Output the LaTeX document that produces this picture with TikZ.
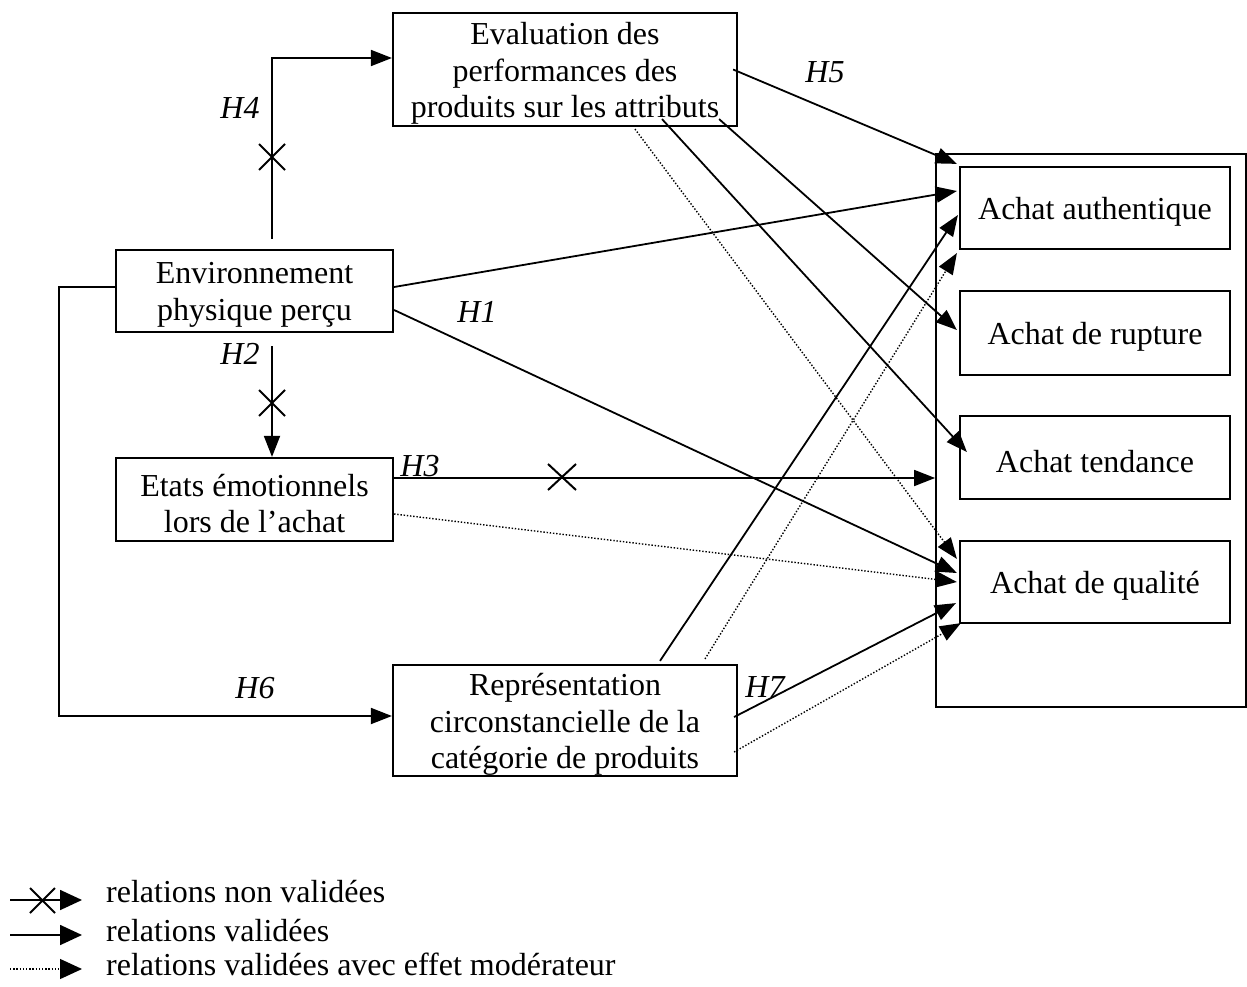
\documentclass[tikz,border=0pt]{standalone}
\usepackage{fontspec}
\setmainfont{Liberation Serif}
\usetikzlibrary{arrows.meta,calc}
\begin{document}
\begin{tikzpicture}[x=1pt,y=-1pt,
  font=\fontsize{32}{36.5}\selectfont,
  box/.style={draw,line width=2.2pt,inner sep=0pt},
  boxtxt/.style={inner sep=0pt,align=center},
  rel/.style={line width=1.8pt,-{Triangle[length=21pt,width=16pt]}},
  moder/.style={line width=1.4pt,dash pattern=on 1.4pt off 1.8pt,-{Triangle[length=21pt,width=16pt]}},
  lab/.style={font=\fontsize{32}{36.5}\selectfont\itshape,inner sep=0pt},
  legtxt/.style={anchor=base west,inner sep=0pt},
  legarrow/.style={-{Triangle[length=22pt,width=20pt]}},
  crossline/.style={line width=2pt}]
\useasboundingbox (0,0) rectangle (1247,987);

% boxes
\node[box,minimum width=344pt,minimum height=113pt] (eval) at (565,69.5) {};
\node[boxtxt] (evalT) at ($(eval.center)+(0,4)$) {Evaluation des\\performances des\\produits sur les attributs};
\node[box,minimum width=277pt,minimum height=82pt] (env) at (254.5,291) {};
\node[boxtxt] (envT) at ($(env.center)+(0,4)$) {Environnement\\physique perçu};
\node[box,minimum width=277pt,minimum height=83pt] (etats) at (254.5,499.5) {};
\node[boxtxt] (etatsT) at ($(etats.center)+(0,4)$) {Etats émotionnels\\lors de l’achat};
\node[box,minimum width=344pt,minimum height=111pt] (rep) at (565,720.5) {};
\node[boxtxt] (repT) at ($(rep.center)+(0,4)$) {Représentation\\circonstancielle de la\\catégorie de produits};
\node[draw,line width=1.8pt,inner sep=0pt,minimum width=310pt,minimum height=553pt] (cont) at (1091,430.5) {};
\node[box,minimum width=270pt,minimum height=82pt] (auth) at (1095,208) {};
\node[boxtxt] (authT) at ($(auth.center)+(0,4)$) {Achat authentique};
\node[box,minimum width=270pt,minimum height=84pt] (rupt) at (1095,333) {};
\node[boxtxt] (ruptT) at ($(rupt.center)+(0,4)$) {Achat de rupture};
\node[box,minimum width=270pt,minimum height=83pt] (tend) at (1095,457.5) {};
\node[boxtxt] (tendT) at ($(tend.center)+(0,4)$) {Achat tendance};
\node[box,minimum width=270pt,minimum height=82pt] (qual) at (1095,582) {};
\node[boxtxt] (qualT) at ($(qual.center)+(0,4)$) {Achat de qualité};

% H4
\draw[rel] ($(env.north)+(17.5,-10)$) |- ($(eval.west)+(0,-11.5)$);
\draw[crossline] (259,144) -- (285,170) (259,170) -- (285,144);
\node[lab] (h4) at (240,108) {H4};

% H2
\draw[rel] ($(env.south)+(17.5,13)$) -- ($(etats.north)+(17.5,0)$);
\draw[crossline] (259,390) -- (285,416) (259,416) -- (285,390);
\node[lab] (h2) at (240,354) {H2};

% H3
\coordinate (h3s) at ($(etats.east)+(0,-21.5)$);
\draw[rel] (h3s) -- (h3s -| cont.west);
\draw[crossline] (548,464) -- (576,490) (548,490) -- (576,464);
\node[lab] (h3) at (420,466) {H3};

% Etats dotted
\draw[moder] ($(etats.east)+(0,14.5)$) -- ($(qual.west)+(-2,0)$);

% Environnement
\draw[rel] ($(env.east)+(0,-4)$) -- ($(auth.west)+(-2,-17)$);
\draw[rel] ($(env.east)+(0,19)$) -- ($(qual.west)+(-2,-9)$);
\node[lab] (h1) at (477,312) {H1};

% Evaluation
\draw[rel] ($(eval.east)+(-5,0)$) -- ($(auth.north west)+(-2,-2)$);
\node[lab] (h5) at (825,72) {H5};
\draw[rel] ($(eval.south east)+(-19,-8)$) -- ($(rupt.west)+(-2,-3)$);
\draw[rel] ($(eval.south)+(97,-8)$) -- ($(tend.west)+(8,-5.5)$);
\draw[moder] ($(eval.south)+(70,2)$) -- ($(qual.north west)+(-2,19)$);

% Representation
\draw[rel] ($(rep.north)+(95,-3)$) -- ($(auth.west)+(-1,7)$);
\draw[moder] ($(rep.north)+(140,-5)$) -- ($(auth.south west)+(-2,3)$);
\draw[rel] ($(rep.east)+(-4,-3.5)$) -- ($(qual.south west)+(-3,-21)$);
\draw[moder] ($(rep.east)+(-4,31.5)$) -- ($(qual.south west)+(2,-1)$);
\node[lab] (h7) at (765,687) {H7};

% H6
\draw[rel] ($(env.west)+(2,-4)$) -- ++(-58,0) |- ($(rep.west)+(0,-4.5)$);
\node[lab] (h6) at (255,688) {H6};

% legend
\coordinate (l1a) at (10,900);
\coordinate (l1b) at (82,900);
\draw[line width=1.8pt,legarrow] (l1a) -- (l1b);
\draw[crossline] (30,888) -- (55,913) (30,913) -- (55,888);
\node[legtxt] (t1) at (106,902) {relations non validées};
\coordinate (l2a) at (10,935);
\coordinate (l2b) at (82,935);
\draw[line width=1.8pt,legarrow] (l2a) -- (l2b);
\node[legtxt] (t2) at (106,941) {relations validées};
\coordinate (l3a) at (10,969);
\coordinate (l3b) at (82,969);
\draw[line width=1.4pt,dash pattern=on 1.4pt off 1.8pt,legarrow] (l3a) -- (l3b);
\node[legtxt] (t3) at (106,975) {relations validées avec effet modérateur};
\end{tikzpicture}
\end{document}
